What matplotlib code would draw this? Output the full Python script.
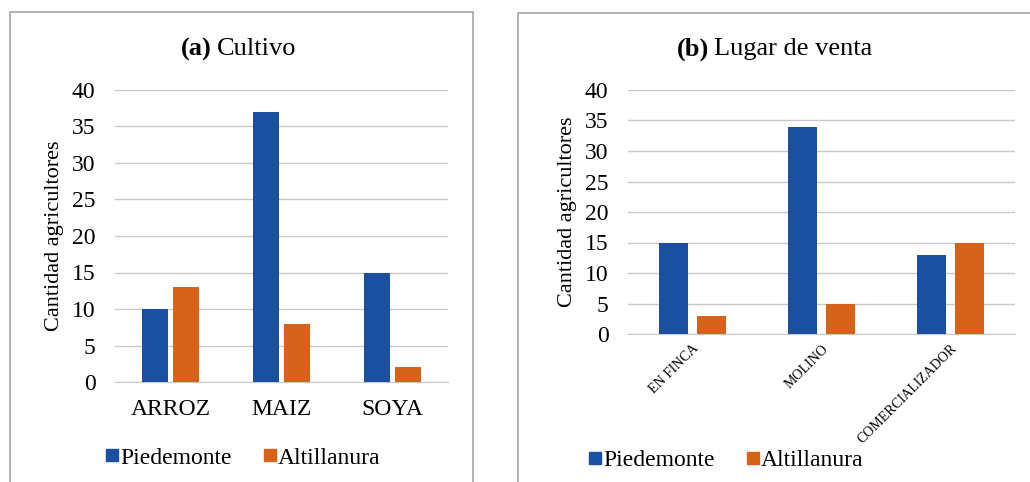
import numpy as np
import matplotlib
matplotlib.use("Agg")
from matplotlib import pyplot as plt
from matplotlib.patches import Rectangle

plt.rcParams['font.family'] = ['Liberation Serif', 'DejaVu Serif']

# data
series = ['Piedemonte', 'Altillanura']
cultivos = ['ARROZ', 'MAIZ', 'SOYA']
cultivo_piedemonte = [10, 37, 15]
cultivo_altillanura = [13, 8, 2]
lugares = ['EN FINCA', 'MOLINO', 'COMERCIALIZADOR']
lugar_piedemonte = [15, 34, 13]
lugar_altillanura = [3, 5, 15]
yticks = [0, 5, 10, 15, 20, 25, 30, 35, 40]

BLUE = '#1b4f9f'
ORANGE = '#d5631a'
GRID = '#c8c8c8'

fig = plt.figure(figsize=(10.3, 4.82), dpi=100)

# panel frames
fig.patches.append(Rectangle((10 / 1030, -0.05), 463 / 1030, 1 - 12 / 482 + 0.05,
                             transform=fig.transFigure, fill=False,
                             edgecolor='#a6a6a6', linewidth=1.2))
fig.patches.append(Rectangle((518 / 1030, -0.05), 520 / 1030, 1 - 13 / 482 + 0.05,
                             transform=fig.transFigure, fill=False,
                             edgecolor='#a6a6a6', linewidth=1.2))


def bar_panel(rect, cats, v1, v2, tick_rot, tick_size, w, off):
    ax = fig.add_axes(rect)
    x = np.arange(len(cats))
    ax.bar(x - off, v1, width=w, color=BLUE, zorder=3)
    ax.bar(x + off, v2, width=w, color=ORANGE, zorder=3)
    ax.set_xlim(-0.5, len(cats) - 0.5)
    ax.set_ylim(0, 40)
    ax.set_yticks(yticks)
    ax.yaxis.grid(True, color=GRID, linewidth=1, zorder=0)
    ax.set_axisbelow(True)
    for s in ['top', 'right', 'left']:
        ax.spines[s].set_visible(False)
    ax.spines['bottom'].set_color(GRID)
    ax.tick_params(axis='both', length=0)
    ax.tick_params(axis='y', labelsize=17, pad=14)
    ax.set_xticks(x)
    if tick_rot:
        ax.set_xticklabels(cats, rotation=45, ha='right', rotation_mode='anchor',
                           fontsize=tick_size)
        ax.tick_params(axis='x', pad=6)
    else:
        ax.set_xticklabels(cats, fontsize=tick_size)
        ax.tick_params(axis='x', pad=12)
    ax.set_ylabel('Cantidad agricultores', fontsize=16, labelpad=6)
    return ax


axa = bar_panel([115 / 1030, 1 - 382 / 482, 333 / 1030, 292 / 482],
                cultivos, cultivo_piedemonte, cultivo_altillanura,
                False, 17, 0.23, 0.14)
axb = bar_panel([628 / 1030, 1 - 334 / 482, 387 / 1030, 244 / 482],
                lugares, lugar_piedemonte, lugar_altillanura,
                True, 10, 0.225, 0.147)

fig.text(212 / 1030, 1 - 49 / 482, '(a)', fontsize=19, fontweight='bold', ha='right', va='center')
fig.text(217 / 1030, 1 - 49 / 482, 'Cultivo', fontsize=19, ha='left', va='center')
fig.text(709 / 1030, 1 - 49 / 482, '(b)', fontsize=19, fontweight='bold', ha='right', va='center')
fig.text(714 / 1030, 1 - 49 / 482, 'Lugar de venta', fontsize=19, ha='left', va='center')

for anchor in [(243 / 1030, 1 - 458 / 482), (726 / 1030, 1 - 460 / 482)]:
    fig.legend([plt.Line2D([], [], marker='s', linestyle='', color=BLUE, markersize=8),
                plt.Line2D([], [], marker='s', linestyle='', color=ORANGE, markersize=8)],
               series, loc='center', bbox_to_anchor=anchor, ncol=2, frameon=False,
               prop={'family': 'Liberation Serif', 'size': 17},
               handletextpad=0.05, columnspacing=1.3, handlelength=0.6)

fig.savefig('out.png', dpi=100)
